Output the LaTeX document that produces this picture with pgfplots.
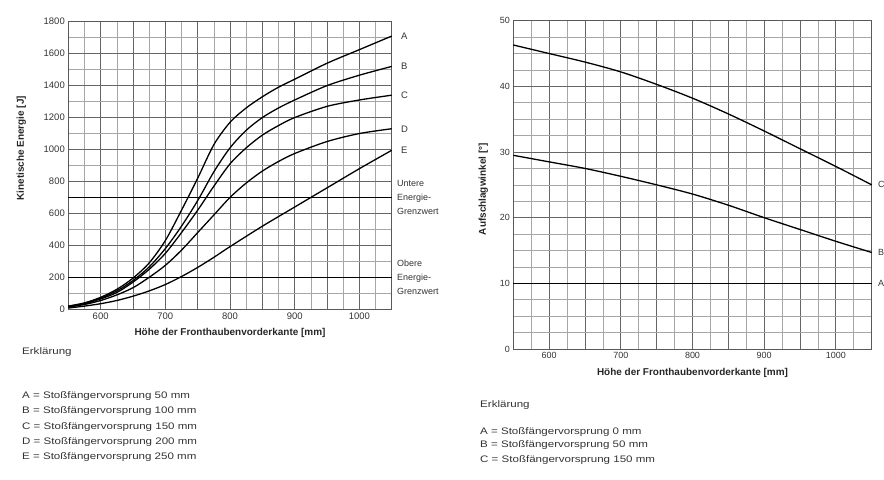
\documentclass[border=0pt]{standalone}
\usepackage{fontspec}
\setmainfont{Liberation Sans}
\usepackage{graphicx}
\usepackage{pgfplots}
\pgfplotsset{compat=1.18}
\newcommand\wide[1]{\scalebox{1.22}[1]{#1}}
\begin{document}
\begin{tikzpicture}
\useasboundingbox (0bp,0bp) rectangle (884bp,480bp);
\pgfplotsset{
  every axis/.append style={
    scale only axis,
    /pgf/number format/assume math mode=true,
    /pgf/number format/1000 sep={},
    grid=both,
    major grid style={black!60, line width=0.75bp},
    minor grid style={black!35, line width=0.6bp},
    axis line style={black!65, line width=0.8bp},
    tick style={draw=none},
    tick label style={font=\fontsize{9.5}{10}\selectfont, text=black!80},
    label style={font=\bfseries\fontsize{10}{12}\selectfont, text=black!85},
    clip=false,
    xmin=550, xmax=1050,
    xtick={550,600,...,1050},
    xticklabels={,600,,700,,800,,900,,1000,},
    minor x tick num=1,
  },
  curve/.style={black, line width=1.3bp, smooth, tension=0.5},
}
% ---------------- left chart ----------------
\begin{axis}[
  at={(68.3bp,170.7bp)}, anchor=south west,
  width=323.4bp, height=287.6bp,
  ymin=0, ymax=1800,
  ytick={0,200,...,1800},
  minor y tick num=1,
  xlabel={Höhe der Fronthaubenvorderkante [mm]},
  ylabel={Kinetische Energie [J]},
  xlabel style={at={(axis description cs:0.5,-0.083)}, anchor=center},
  ylabel style={at={(axis description cs:-0.145,0.56)}, anchor=center},
]
\addplot[curve] coordinates {(550,20) (575,40) (600,75) (625,125) (650,195) (675,290) (700,430) (725,620) (750,820) (775,1030) (800,1170) (825,1260) (850,1330) (875,1390) (900,1440) (950,1540) (1000,1625) (1050,1710)};
\addplot[curve] coordinates {(550,18) (575,38) (600,70) (625,115) (650,180) (675,265) (700,380) (725,520) (750,680) (775,860) (800,1010) (825,1120) (850,1200) (875,1260) (900,1310) (950,1400) (1000,1465) (1050,1520)};
\addplot[curve] coordinates {(550,16) (575,35) (600,65) (625,105) (650,170) (675,250) (700,350) (725,480) (750,620) (775,770) (800,910) (825,1010) (850,1090) (875,1150) (900,1200) (950,1270) (1000,1310) (1050,1340)};
\addplot[curve] coordinates {(550,14) (575,30) (600,55) (625,90) (650,135) (675,200) (700,275) (725,370) (750,480) (775,590) (800,700) (825,790) (850,865) (875,925) (900,975) (950,1050) (1000,1100) (1050,1130)};
\addplot[curve] coordinates {(550,8) (575,20) (600,35) (625,55) (650,82) (675,115) (700,155) (725,205) (750,262) (775,325) (800,392) (850,520) (900,640) (950,760) (1000,880) (1050,995)};
\addplot[black, line width=1.3bp] coordinates {(550,700) (1050,700)};
\addplot[black, line width=1.3bp] coordinates {(550,200) (1050,200)};
\begin{scope}[every node/.style={anchor=west, font=\fontsize{9.5}{10}\selectfont, text=black!80, xshift=6bp}]
\node at (axis cs:1050,1710) {A};
\node at (axis cs:1050,1520) {B};
\node at (axis cs:1050,1340) {C};
\node at (axis cs:1050,1130) {D};
\node at (axis cs:1050,995) {E};
\end{scope}
\node[anchor=west, align=left, font=\fontsize{9}{14.5}\selectfont, text=black!80, xshift=2bp] at (axis cs:1050,700) {Untere\\Energie-\\Grenzwert};
\node[anchor=west, align=left, font=\fontsize{9}{14.5}\selectfont, text=black!80, xshift=2bp] at (axis cs:1050,200) {Obere\\Energie-\\Grenzwert};
\end{axis}
% ---------------- right chart ----------------
\begin{axis}[
  at={(513.3bp,131bp)}, anchor=south west,
  width=358.4bp, height=328.3bp,
  ymin=0, ymax=50,
  ytick={0,10,...,50},
  minor y tick num=3,
  tick label style={font=\fontsize{9}{10}\selectfont, text=black!80},
  xlabel={Höhe der Fronthaubenvorderkante [mm]},
  ylabel={Aufschlagwinkel [°]},
  xlabel style={at={(axis description cs:0.5,-0.073)}, anchor=center},
  ylabel style={at={(axis description cs:-0.084,0.487)}, anchor=center},
]
\addplot[curve] coordinates {(550,46.3) (600,45.0) (650,43.7) (700,42.2) (750,40.3) (800,38.2) (850,35.8) (900,33.2) (950,30.5) (1000,27.8) (1050,25.0)};
\addplot[curve] coordinates {(550,29.5) (600,28.5) (650,27.5) (700,26.3) (750,25.0) (800,23.6) (850,21.9) (900,20.0) (950,18.2) (1000,16.4) (1050,14.7)};
\addplot[black, line width=1.3bp] coordinates {(550,10) (1050,10)};
\begin{scope}[every node/.style={anchor=west, font=\fontsize{9}{10}\selectfont, text=black!80, xshift=3bp}]
\node at (axis cs:1050,25) {C};
\node at (axis cs:1050,14.7) {B};
\node at (axis cs:1050,10) {A};
\end{scope}
\end{axis}
% ---------------- legends ----------------
\begin{scope}[every node/.style={anchor=west, inner sep=0pt, font=\fontsize{9.5}{11}\selectfont, text=black!80}]
\node at (22bp,128bp) {\wide{Erklärung}};
\node at (22bp,84bp) {\wide{A = Stoßfängervorsprung 50 mm}};
\node at (22bp,68.5bp) {\wide{B = Stoßfängervorsprung 100 mm}};
\node at (22bp,53bp) {\wide{C = Stoßfängervorsprung 150 mm}};
\node at (22bp,38bp) {\wide{D = Stoßfängervorsprung 200 mm}};
\node at (22bp,22.5bp) {\wide{E = Stoßfängervorsprung 250 mm}};
\node at (480bp,75bp) {\wide{Erklärung}};
\node at (480bp,47.7bp) {\wide{A = Stoßfängervorsprung 0 mm}};
\node at (480bp,35bp) {\wide{B = Stoßfängervorsprung 50 mm}};
\node at (480bp,20bp) {\wide{C = Stoßfängervorsprung 150 mm}};
\end{scope}
\end{tikzpicture}
\end{document}
